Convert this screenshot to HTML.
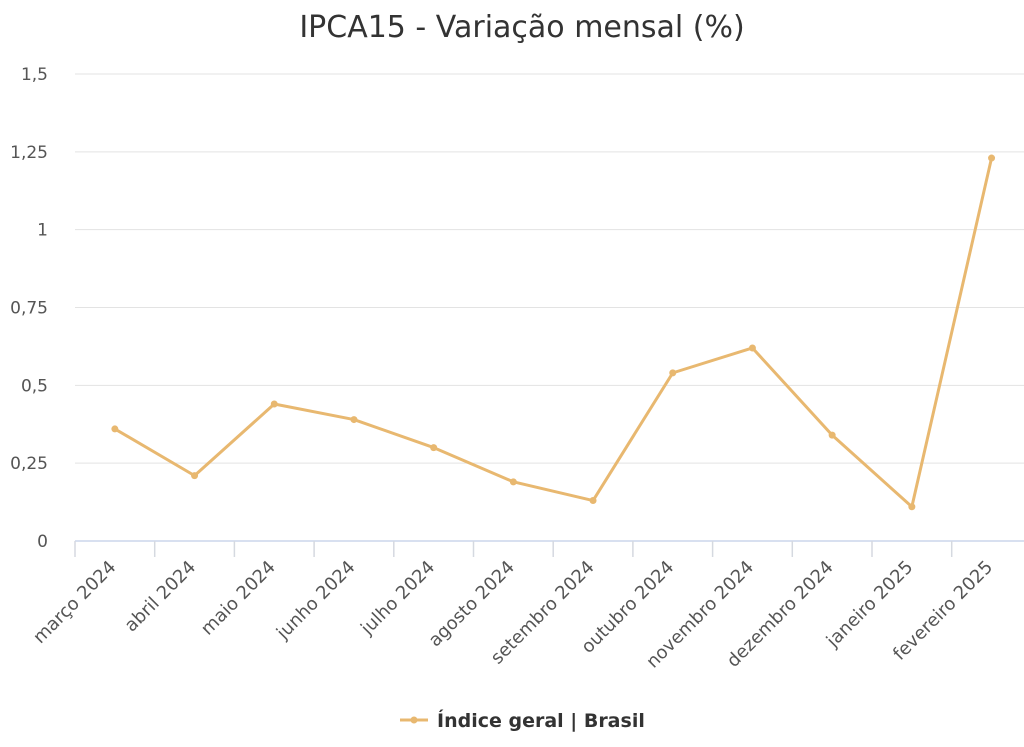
<!DOCTYPE html>
<html><head><meta charset="utf-8"><style>
body{margin:0;background:#fff;}
svg{display:block;font-family:"DejaVu Sans","Liberation Sans",sans-serif;}
</style></head><body>
<svg id="chart" width="1024" height="747" viewBox="0 0 1024 747">
<text x="522" y="37" text-anchor="middle" font-size="30" fill="#333">IPCA15 - Variação mensal (%)</text>
<g id="grid"></g><g id="xaxis"></g><g id="series"></g>
<g>
<line x1="400" y1="720" x2="428" y2="720" stroke="#e8b870" stroke-width="3"/>
<circle cx="414" cy="720" r="3.5" fill="#e8b870"/>
<text x="437" y="727" font-size="19" font-weight="bold" fill="#333">Índice geral | Brasil</text>
</g>
</svg>
<script>
const categories=["março 2024","abril 2024","maio 2024","junho 2024","julho 2024","agosto 2024","setembro 2024","outubro 2024","novembro 2024","dezembro 2024","janeiro 2025","fevereiro 2025"];
const values=[0.36,0.21,0.44,0.39,0.30,0.19,0.13,0.54,0.62,0.34,0.11,1.23];
const yTicks=[0,0.25,0.5,0.75,1,1.25,1.5];
const yTickLabels=["0","0,25","0,5","0,75","1","1,25","1,5"];
const NS="http://www.w3.org/2000/svg";
const y0=541,y1=74,ymax=1.5,xl=75,bw=79.7;
const ys=v=>y0-(v/ymax)*(y0-y1);
const xs=i=>xl+(i+0.5)*bw;
function mk(t,a,p){const e=document.createElementNS(NS,t);for(const k in a)e.setAttribute(k,a[k]);p.appendChild(e);return e;}
const grid=document.getElementById('grid');
yTicks.forEach((v,i)=>{
 if(v>0){const l=mk('line',{x1:xl,x2:1024,y1:ys(v),y2:ys(v),stroke:'#e3e3e3','stroke-width':1},grid);
 
 }
 const t=mk('text',{x:48,y:ys(v)+6,'text-anchor':'end','font-size':17,fill:'#555'},grid);
 t.textContent=yTickLabels[i];
 
 
});
const xa=document.getElementById('xaxis');
const ax=mk('line',{x1:xl,x2:1024,y1:y0,y2:y0,stroke:'#ccd6eb','stroke-width':1.5},xa);


categories.forEach((c,i)=>{
 const tx=xl+i*bw;
 const tk=mk('line',{x1:tx,x2:tx,y1:y0,y2:y0+16,stroke:'#d5d9e0','stroke-width':1.5},xa);
 
 
 const cx=xs(i)+2,cy=568;
 const t=mk('text',{x:cx,y:cy,'text-anchor':'end','font-size':18,fill:'#555',transform:`rotate(-45 ${cx} ${cy})`},xa);
 t.textContent=c;
 
 
});
const s=document.getElementById('series');
const pl=mk('polyline',{points:values.map((v,i)=>xs(i)+','+ys(v)).join(' '),fill:'none',stroke:'#e8b870','stroke-width':3,'stroke-linejoin':'round'},s);


values.forEach((v,i)=>{
 const c=mk('circle',{cx:xs(i),cy:ys(v),r:3.5,fill:'#e8b870'},s);
 
 
});
</script>
</body></html>
